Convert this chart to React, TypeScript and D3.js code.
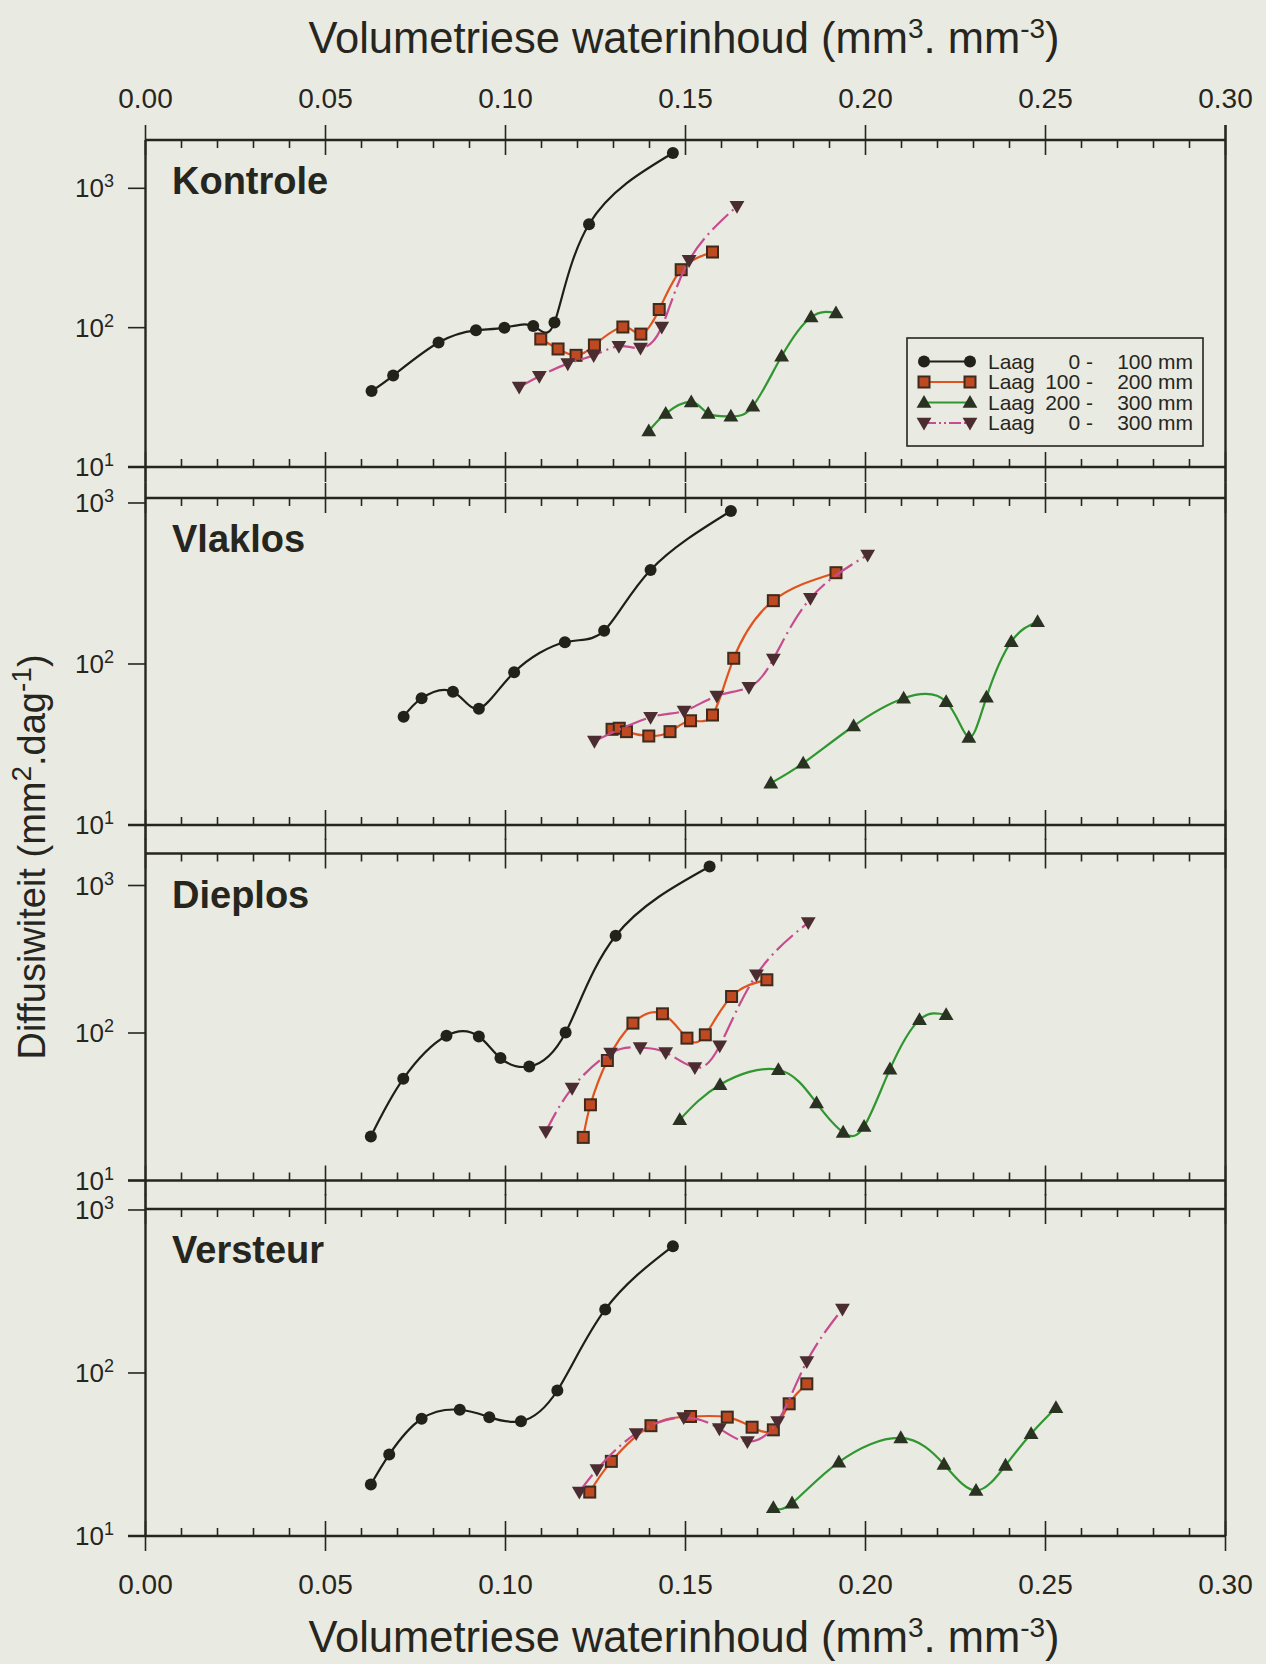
import React from 'react';
import * as d3 from 'd3';

// ---------- data ----------
const xMajorTicks = [0, 0.05, 0.1, 0.15, 0.2, 0.25, 0.3];
const xTickLabels = ['0.00', '0.05', '0.10', '0.15', '0.20', '0.25', '0.30'];
const xMinorTicks = d3.range(0, 31).map((i) => i / 100);
const yTickValues = [10, 100, 1000];
const yTickExponents = ['1', '2', '3'];

const panelNames = ['Kontrole', 'Vlaklos', 'Dieplos', 'Versteur'];
const panelYMax = [2222, 1074, 1648, 1014];

const layerFrom = ['0 -', '100 -', '200 -', '0 -'];
const layerTo = ['100 mm', '200 mm', '300 mm', '300 mm'];

type P = [number, number];

// Kontrole
const kontrole0_100: P[] = [[0.0628, 35.1], [0.0688, 45.3], [0.0814, 78.2], [0.0918, 95.7], [0.0997, 100], [0.1077, 102.7], [0.1136, 108.7], [0.1232, 552], [0.1465, 1791]];
const kontrole100_200: P[] = [[0.1098, 82.9], [0.1146, 70.3], [0.1196, 63.3], [0.1247, 75.1], [0.1326, 101.1], [0.1376, 89.9], [0.1427, 135], [0.1488, 260.6], [0.1575, 349]];
const kontrole200_300: P[] = [[0.1398, 18.1], [0.1445, 24.2], [0.1516, 29.3], [0.1563, 24.2], [0.1626, 23.1], [0.1687, 27.3], [0.1767, 62.3], [0.1849, 119.2], [0.1918, 127.4]];
const kontrole0_300: P[] = [[0.1038, 37.5], [0.1094, 44.8], [0.1173, 55.2], [0.1245, 63.3], [0.1315, 73.5], [0.1375, 71.4], [0.1434, 101], [0.151, 304], [0.1643, 743]];

// Vlaklos
const vlaklos0_100: P[] = [[0.0717, 47.1], [0.0767, 61.2], [0.0854, 67.3], [0.0926, 52.8], [0.1024, 88.8], [0.1165, 136.4], [0.1274, 161], [0.1403, 383.6], [0.1626, 891.7]];
const vlaklos100_200: P[] = [[0.1296, 39.3], [0.1316, 39.9], [0.1336, 38.0], [0.1398, 35.7], [0.1457, 38.0], [0.1514, 44.4], [0.1575, 48.2], [0.1634, 108.5], [0.1744, 247.4], [0.1918, 369]];
const vlaklos200_300: P[] = [[0.1737, 18.2], [0.1827, 24.2], [0.1967, 41.2], [0.2106, 61.2], [0.2224, 58.3], [0.2287, 35.0], [0.2336, 62.1], [0.2405, 137.6], [0.2478, 183.1]];
const vlaklos0_300: P[] = [[0.1247, 33.2], [0.1403, 46.7], [0.1496, 51.1], [0.1587, 63.3], [0.1676, 71.7], [0.1744, 107.4], [0.1847, 255.9], [0.2006, 475.5]];

// Dieplos
const dieplos0_100: P[] = [[0.0626, 19.9], [0.0716, 48.9], [0.0836, 95.7], [0.0926, 94.7], [0.0986, 67.6], [0.1066, 59.3], [0.1167, 100.8], [0.1306, 456], [0.1567, 1345]];
const dieplos100_200: P[] = [[0.1216, 19.6], [0.1236, 32.6], [0.1283, 65.1], [0.1354, 116.7], [0.1436, 134.9], [0.1504, 92.3], [0.1555, 97.2], [0.1628, 176.8], [0.1726, 229.5]];
const dieplos200_300: P[] = [[0.1484, 25.8], [0.1596, 44.6], [0.1758, 56.3], [0.1864, 33.5], [0.1938, 21.2], [0.1996, 23.2], [0.2068, 56.9], [0.215, 122.9], [0.2224, 132.8]];
const dieplos0_300: P[] = [[0.1112, 21.5], [0.1185, 42.3], [0.1292, 73.1], [0.1374, 79.6], [0.1445, 73.8], [0.1526, 58.4], [0.1595, 81.9], [0.1697, 248], [0.1841, 561]];

// Versteur
const versteur0_100: P[] = [[0.0626, 20.7], [0.0677, 31.6], [0.0767, 52.4], [0.0873, 59.5], [0.0955, 53.6], [0.1043, 50.6], [0.1144, 78.1], [0.1277, 245.3], [0.1465, 599.8]];
const versteur100_200: P[] = [[0.1234, 18.6], [0.1294, 28.7], [0.1404, 47.5], [0.1514, 54.1], [0.1616, 53.6], [0.1685, 46.5], [0.1744, 44.8], [0.1788, 64.7], [0.1837, 85.8]];
const versteur200_300: P[] = [[0.1744, 14.9], [0.1796, 15.9], [0.1926, 28.4], [0.2098, 40.0], [0.2218, 27.5], [0.2307, 19.0], [0.2389, 27.1], [0.246, 42.4], [0.2529, 61.2]];
const versteur0_300: P[] = [[0.1205, 18.6], [0.1254, 25.6], [0.1363, 42.6], [0.1495, 53.3], [0.1594, 45.6], [0.1672, 38.0], [0.1756, 50.4], [0.1837, 117.6], [0.1936, 247]];

const panelSeries: P[][][] = [
  [kontrole0_100, kontrole100_200, kontrole200_300, kontrole0_300],
  [vlaklos0_100, vlaklos100_200, vlaklos200_300, vlaklos0_300],
  [dieplos0_100, dieplos100_200, dieplos200_300, dieplos0_300],
  [versteur0_100, versteur100_200, versteur200_300, versteur0_300],
];

// ---------- styles / layout ----------
const W = 1266;
const H = 1664;
const FONT = '"Liberation Sans", Arial, Helvetica, sans-serif';
const INK = '#26261e';
const BG = '#e9eae1';
const X0 = 145.5;
const X1 = 1225.5;
const panelTops = [140, 498, 853.5, 1209];
const PANEL_H = 327;

const seriesStyle = [
  { stroke: '#1f1f19', dash: undefined as string | undefined, legendDash: undefined as string | undefined, marker: 'circle' },
  { stroke: '#e0531f', dash: undefined, legendDash: undefined, marker: 'square' },
  { stroke: '#2f9630', dash: undefined, legendDash: undefined, marker: 'up' },
  { stroke: '#c84a8f', dash: '22,5,2,5', legendDash: '12,3,2,3,2,3', marker: 'down' },
];

const x = d3.scaleLinear().domain([0, 0.3]).range([X0, X1]);

function Marker({ kind, cx, cy }: { kind: string; cx: number; cy: number }) {
  if (kind === 'circle') return <circle cx={cx} cy={cy} r={6} fill="#222219" />;
  if (kind === 'square')
    return <rect x={cx - 5.5} y={cy - 5.5} width={11} height={11} fill="#bf4a22" stroke="#3e2b1e" strokeWidth={2} />;
  const tri = d3.symbol(d3.symbolTriangle, 95)();
  if (kind === 'up') return <path d={tri || ''} transform={`translate(${cx},${cy + 1})`} fill="#2a3322" />;
  return <path d={tri || ''} transform={`translate(${cx},${cy - 1}) rotate(180)`} fill="#4a2c31" />;
}

function XTicks({ y0, dir }: { y0: number; dir: number }) {
  return (
    <g stroke={INK} strokeWidth={1.6}>
      {xMinorTicks.map((t, i) => {
        const isMajor = i % 5 === 0;
        const xx = x(t);
        return isMajor ? (
          <line key={i} x1={xx} x2={xx} y1={y0 - 15} y2={y0 + 15} />
        ) : (
          <line key={i} x1={xx} x2={xx} y1={y0} y2={y0 + dir * 8} />
        );
      })}
    </g>
  );
}

function Panel({ idx }: { idx: number }) {
  const top = panelTops[idx];
  const bottom = top + PANEL_H;
  const y = d3.scaleLog().domain([10, panelYMax[idx]]).range([bottom, top]);
  const line = d3
    .line<P>()
    .x((d) => x(d[0]))
    .y((d) => y(d[1]))
    .curve(d3.curveNatural);
  return (
    <g>
      <line x1={X0} x2={X1} y1={top} y2={top} stroke={INK} strokeWidth={2.4} />
      <line x1={128} x2={X1} y1={bottom} y2={bottom} stroke={INK} strokeWidth={2.4} />
      <XTicks y0={top} dir={1} />
      <XTicks y0={bottom} dir={-1} />
      {yTickValues.map((v, i) => (
        <g key={v}>
          <line x1={128} x2={X0} y1={y(v)} y2={y(v)} stroke={INK} strokeWidth={1.6} />
          <text x={114} y={y(v) + 9} textAnchor="end" fontFamily={FONT} fontSize={26} fill={INK}>
            10
            <tspan fontSize={18} dy={-10}>{yTickExponents[i]}</tspan>
          </text>
        </g>
      ))}
      <text x={172} y={top + 54} fontFamily={FONT} fontWeight="bold" fontSize={38} fill={INK}>
        {panelNames[idx]}
      </text>
      {panelSeries[idx].map((s, si) => (
        <g key={si}>
          <path d={line(s) || ''} fill="none" stroke={seriesStyle[si].stroke} strokeWidth={2.2} strokeDasharray={seriesStyle[si].dash} />
          {s.map((d, k) => (
            <Marker key={k} kind={seriesStyle[si].marker} cx={x(d[0])} cy={y(d[1])} />
          ))}
        </g>
      ))}
    </g>
  );
}

function Legend() {
  const lx = 907;
  const ly = 338;
  return (
    <g>
      <rect x={lx} y={ly} width={296} height={108} fill="none" stroke={INK} strokeWidth={1.6} />
      {seriesStyle.map((s, i) => {
        const cy = ly + 23.5 + i * 20.5;
        return (
          <g key={i}>
            <line x1={lx + 17} x2={lx + 63} y1={cy} y2={cy} stroke={s.stroke} strokeWidth={2} strokeDasharray={s.legendDash} />
            <Marker kind={s.marker} cx={lx + 17} cy={cy} />
            <Marker kind={s.marker} cx={lx + 63} cy={cy} />
            <text x={lx + 81} y={cy + 7} fontFamily={FONT} fontSize={21} fill={INK}>Laag</text>
            <text x={lx + 186} y={cy + 7} textAnchor="end" fontFamily={FONT} fontSize={21} fill={INK}>{layerFrom[i]}</text>
            <text x={lx + 286} y={cy + 7} textAnchor="end" fontFamily={FONT} fontSize={21} fill={INK}>{layerTo[i]}</text>
          </g>
        );
      })}
    </g>
  );
}

function XTitle({ yBase }: { yBase: number }) {
  return (
    <text x={684} y={yBase} textAnchor="middle" fontFamily={FONT} fontSize={43.5} fill={INK}>
      Volumetriese waterinhoud (mm
      <tspan fontSize={28} dy={-15}>3</tspan>
      <tspan dy={15}>. mm</tspan>
      <tspan fontSize={28} dy={-15}>-3</tspan>
      <tspan dy={15}>)</tspan>
    </text>
  );
}

export default function App() {
  const lastBottom = panelTops[3] + PANEL_H;
  return (
    <svg width={W} height={H} style={{ position: 'absolute', left: 0, top: 0, display: 'block' }}>
      <rect x={0} y={0} width={W} height={H} fill={BG} />
      <XTitle yBase={53} />
      {xMajorTicks.map((t, i) => (
        <text key={'t' + i} x={x(t)} y={108} textAnchor="middle" fontFamily={FONT} fontSize={28} fill={INK}>
          {xTickLabels[i]}
        </text>
      ))}
      {xMajorTicks.map((t, i) => (
        <text key={'b' + i} x={x(t)} y={1594} textAnchor="middle" fontFamily={FONT} fontSize={28} fill={INK}>
          {xTickLabels[i]}
        </text>
      ))}
      <XTitle yBase={1652} />
      <text
        transform={`translate(45, 857) rotate(-90)`}
        textAnchor="middle"
        fontFamily={FONT}
        fontSize={38}
        fill={INK}
      >
        Diffusiwiteit (mm
        <tspan fontSize={28} dy={-14}>2</tspan>
        <tspan dy={14}>.dag</tspan>
        <tspan fontSize={28} dy={-14}>-1</tspan>
        <tspan dy={14}>)</tspan>
      </text>
      <line x1={X0} x2={X0} y1={panelTops[0]} y2={lastBottom} stroke={INK} strokeWidth={2.4} />
      <line x1={X1} x2={X1} y1={panelTops[0] - 15} y2={lastBottom} stroke={INK} strokeWidth={2.4} />
      {panelNames.map((_, i) => (
        <Panel key={i} idx={i} />
      ))}
      <Legend />
    </svg>
  );
}
